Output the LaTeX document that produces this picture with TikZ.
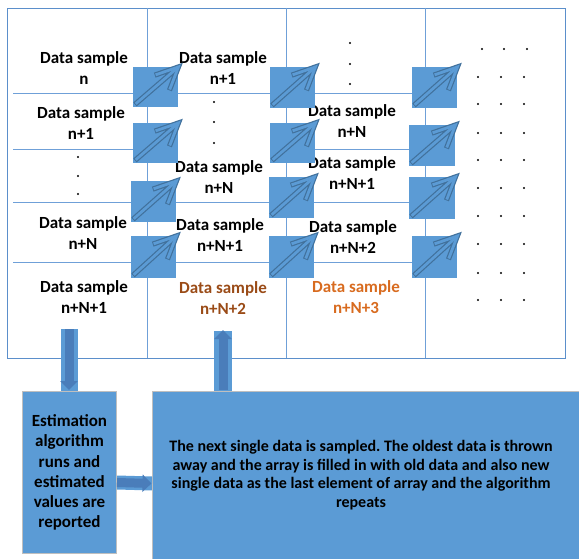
\documentclass[tikz,border=0pt]{standalone}
\usepackage{fontspec}
\setmainfont{Carlito}
\frenchspacing
\usetikzlibrary{calc,arrows.meta}
\definecolor{boxblue}{HTML}{5B9BD5}
\definecolor{arrdark}{HTML}{41719C}
\definecolor{darrow}{HTML}{4A7DBA}
\definecolor{gridline}{HTML}{6FA0D8}
\definecolor{frameblue}{HTML}{5B8FCB}
\definecolor{brownish}{HTML}{9A4B17}
\definecolor{orangeish}{HTML}{D86B1F}
\newcommand\sqarr[1]{%
  \coordinate (#1t) at ($(#1.south west)+(2,-3)$);
  \coordinate (#1h) at (#1.north east);
  \coordinate (#1a) at ($(#1h)+(161:25)$);
  \coordinate (#1b) at ($(#1h)+(111:25)$);
  \draw[line width=5.2pt,arrdark,line join=miter] (#1a) -- (#1h) -- (#1b) (#1t) -- (#1h);
  \draw[line width=2.8pt,boxblue,line join=miter,shorten <=0.9pt,shorten >=0.9pt] (#1a) -- (#1h) -- (#1b);
  \draw[line width=2.8pt,boxblue,shorten <=0.9pt] (#1t) -- (#1h);
}
\begin{document}
\begin{tikzpicture}[x=1pt,y=-1pt,
  cell/.style={font=\fontsize{17}{21}\selectfont\bfseries,align=center,inner sep=0pt},
  grid/.style={gridline,line width=0.9pt},
  dotmark/.style={fill=black,circle,inner sep=0pt,minimum size=2.2pt},
  bigbox/.style={fill=boxblue,draw=black!25,line width=1pt,inner sep=0pt},
  band/.style={boxblue,line width=#1},
  blockarr/.style={darrow,line width=9pt,-{Triangle[width=17pt,length=9pt]}}
]
\useasboundingbox (0,0) rectangle (579,559);
% table frame
\node[draw=frameblue,line width=1.2pt,minimum width=558pt,minimum height=350pt,inner sep=0pt,anchor=north west] (tbl) at (7,8) {};
\coordinate (d1t) at (147,8); \coordinate (d1b) at (147,358);
\coordinate (d2t) at (286,8); \coordinate (d2b) at (286,358);
\coordinate (d3t) at (425,8); \coordinate (d3b) at (425,358);
\draw[grid] (d1t) -- (d1b);
\draw[grid] (d2t) -- (d2b);
\draw[grid] (d3t) -- (d3b);
% row lines
\foreach \y in {93,149,202,262}{
  \draw[grid] (13,\y) -- (147,\y);
  \draw[grid] (286,\y) -- (420,\y);}
\foreach \y in {93,202,262}{
  \draw[grid] (147,\y) -- (286,\y);}
% texts column 1
\node[cell] (a1) at (84,68) {Data sample\\n};
\node[cell] (a2) at (81,123) {Data sample\\n+1};
\node[cell] (a3) at (83,233) {Data sample\\n+N};
\node[cell] (a4) at (84,297) {Data sample\\n+N+1};
\foreach \y [count=\i] in {157,176,194}{\node[dotmark] (ad\i) at (78,\y) {};}
% column 2
\node[cell] (b1) at (223,68) {Data sample\\n+1};
\node[cell] (b2) at (219,177) {Data sample\\n+N};
\node[cell] (b3) at (220,235) {Data sample\\n+N+1};
\node[cell,text=brownish] (b4) at (223,298) {Data sample\\n+N+2};
\foreach \y [count=\i] in {102,122,143}{\node[dotmark] (bd\i) at (214,\y) {};}
% column 3
\node[cell] (c1) at (352,121) {Data sample\\n+N};
\node[cell] (c2) at (352,173) {Data sample\\n+N+1};
\node[cell] (c3) at (353,237) {Data sample\\n+N+2};
\node[cell,text=orangeish] (c4) at (356,297) {Data sample\\n+N+3};
\foreach \y [count=\i] in {43,64,84}{\node[dotmark] (cd\i) at (350,\y) {};}
% column 4 dots
\foreach \x [count=\j] in {482,504,527}{\node[dotmark] (e0\j) at (\x,49) {};}
\foreach \y [count=\i] in {77,104,133,160,188,216,244,273,300}{
  \foreach \x [count=\j] in {478,501,524}{\node[dotmark] (e\i\j) at (\x,\y) {};}}
% squares with arrows
\foreach \n/\xa/\ya/\ww/\hh in {
  s11/133/67/45/40, s12/133/123/45/40, s13/131/181/45/41, s14/131/236/45/42,
  s21/270/67/45/41, s22/270/123/45/40, s23/269/177/45/41, s24/269/236/45/42,
  s31/412/67/45/41, s32/409/125/46/41, s33/409/177/46/42, s34/412/236/45/42}{
  \node[fill=boxblue,inner sep=0pt,minimum width=\ww pt,minimum height=\hh pt,anchor=north west] (\n) at (\xa,\ya) {};
}
\foreach \n in {s11,s12,s13,s14,s21,s22,s23,s24,s31,s32,s33,s34}{\sqarr{\n}}
% bottom boxes
\node[bigbox,minimum width=94pt,minimum height=162pt,anchor=north west,
  font=\fontsize{17}{20.2}\selectfont\bfseries,align=center] (est) at (22,391)
  {Estimation\\algorithm\\runs and\\estimated\\values are\\reported};
\node[bigbox,minimum width=429pt,minimum height=170pt,anchor=north west] (next) at (152,391) {};
\node[font=\fontsize{16}{18.7}\selectfont\bfseries,align=center,inner sep=0pt] (nexttxt) at (361,475)
  {The next single data is sampled. The oldest data is thrown\\
   away and the array is filled in with old data and also new\\
   single data as the last element of array and the algorithm\\
   repeats};
% block arrows
\coordinate (dA) at ($(est.north)+(-0.5,-62)$);
\coordinate (dB) at ($(est.north)+(-0.5,-1)$);
\draw[band=17pt] (dA) -- ($(est.north)+(-0.5,0)$);
\draw[blockarr] (dA) -- (dB);
\coordinate (uA) at (223,391);
\coordinate (uB) at (223,330);
\draw[band=18pt] ($(uA)+(0,0)$) -- ($(uB)+(0,1)$);
\draw[blockarr] ($(uA)+(0,-1)$) -- (uB);
\coordinate (rA) at ($(est.east)+(0,10)$);
\coordinate (rB) at ($(next.west)+(0,7)$);
\draw[band=14pt] (rA) -- (rB);
\draw[blockarr] (rA) -- ($(rB)+(-0.5,0)$);
\end{tikzpicture}
\end{document}
